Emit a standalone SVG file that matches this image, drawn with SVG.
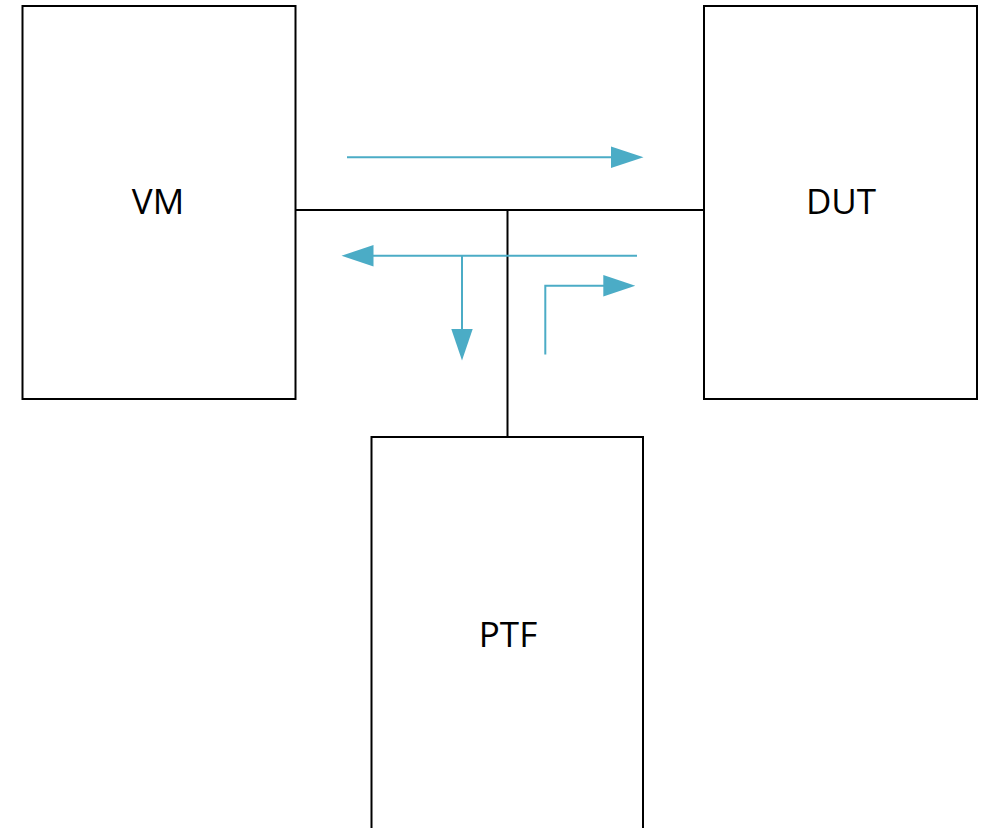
<svg xmlns="http://www.w3.org/2000/svg" width="989" height="828" viewBox="0 0 989 828">
<style>
.box{fill:#fff;stroke:#000;stroke-width:2}
.lbl{font-family:"Open Sans","Liberation Sans",sans-serif;font-size:35px;fill:#000;text-anchor:middle}
.wire{stroke:#000;stroke-width:2;fill:none}
.flow{stroke:#4BACC6;stroke-width:2;fill:none}
.head{fill:#4BACC6}
</style>
<rect width="989" height="828" fill="#fff"/>
<g id="connectors">
<path class="wire" d="M295 210 H704"/>
<path class="wire" d="M507.5 210 V437"/>
</g>
<g id="VM">
<rect class="box" x="22.5" y="6" width="273" height="393"/>
<text class="lbl" x="158" y="214">VM</text>
</g>
<g id="DUT">
<rect class="box" x="704" y="6" width="273" height="393"/>
<text class="lbl" x="841" y="214">DUT</text>
</g>
<g id="PTF">
<path class="box" d="M371.5 840 V437 H643 V840"/>
<text class="lbl" x="508" y="647">PTF</text>
</g>
<g id="flows">
<path class="flow" d="M347 157.3 H612"/>
<polygon class="head" points="611,146.5 643.5,157.3 611,168"/>
<path class="flow" d="M637 255.7 H372"/>
<polygon class="head" points="373.5,245 341.5,255.7 373.5,266.5"/>
<path class="flow" d="M462 255.7 V330"/>
<polygon class="head" points="451.3,329 462,360.5 472.7,329"/>
<path class="flow" d="M545.3 354.5 V285.7 H604"/>
<polygon class="head" points="603.3,275 635.3,285.7 603.3,296.4"/>
</g>
</svg>
